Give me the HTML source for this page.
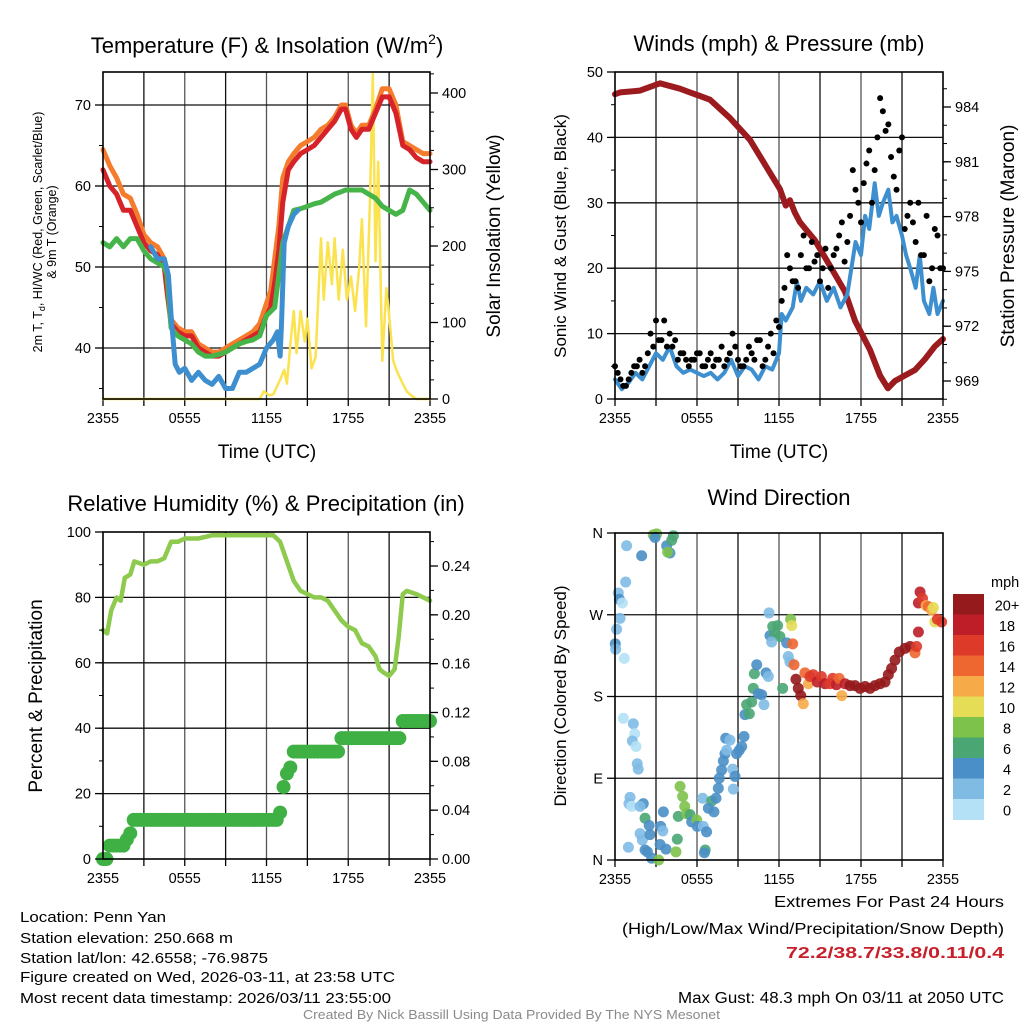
<!DOCTYPE html>
<html><head><meta charset="utf-8"><style>
html,body{margin:0;padding:0;background:#fff;}
svg{display:block;font-family:"Liberation Sans",Arial,sans-serif;}
</style></head><body>
<svg id="fig" width="1024" height="1024" viewBox="0 0 1024 1024">
<rect x="0" y="0" width="1024" height="1024" fill="#fff"/>
<text x="267" y="53" font-size="22" text-anchor="middle">Temperature (F) &amp; Insolation (W/m<tspan font-size="14" dy="-9">2</tspan><tspan dy="9">)</tspan></text>
<text x="779" y="51" font-size="22" text-anchor="middle">Winds (mph) &amp; Pressure (mb)</text>
<text x="266" y="511" font-size="22" text-anchor="middle">Relative Humidity (%) &amp; Precipitation (in)</text>
<text x="779" y="505" font-size="22" text-anchor="middle">Wind Direction</text>

<text transform="translate(42,232) rotate(-90)" font-size="12.5" text-anchor="middle">2m T, T<tspan font-size="9" dy="3">d</tspan><tspan dy="-3">, HI/WC (Red, Green, Scarlet/Blue)</tspan></text>
<text transform="translate(56,232) rotate(-90)" font-size="12.5" text-anchor="middle">&amp; 9m T (Orange)</text>
<text transform="translate(500,236) rotate(-90)" font-size="19" text-anchor="middle">Solar Insolation (Yellow)</text>
<text x="267" y="458" font-size="19" text-anchor="middle">Time (UTC)</text>
<text transform="translate(566,236) rotate(-90)" font-size="17" text-anchor="middle">Sonic Wind &amp; Gust (Blue, Black)</text>
<text transform="translate(1014,236) rotate(-90)" font-size="19" text-anchor="middle">Station Pressure (Maroon)</text>
<text x="779" y="458" font-size="19" text-anchor="middle">Time (UTC)</text>
<text transform="translate(42,696) rotate(-90)" font-size="19" text-anchor="middle">Percent &amp; Precipitation</text>
<text transform="translate(566,696) rotate(-90)" font-size="17" text-anchor="middle">Direction (Colored By Speed)</text>

<g font-size="14.5">
<text x="20" y="922" textLength="146" lengthAdjust="spacingAndGlyphs">Location: Penn Yan</text>
<text x="20" y="943" textLength="213" lengthAdjust="spacingAndGlyphs">Station elevation: 250.668 m</text>
<text x="20" y="963" textLength="248" lengthAdjust="spacingAndGlyphs">Station lat/lon: 42.6558; -76.9875</text>
<text x="20" y="982" textLength="375" lengthAdjust="spacingAndGlyphs">Figure created on Wed, 2026-03-11, at 23:58 UTC</text>
<text x="20" y="1003" textLength="371" lengthAdjust="spacingAndGlyphs">Most recent data timestamp: 2026/03/11 23:55:00</text>
</g>
<g font-size="15.5">
<text x="774" y="907" textLength="230" lengthAdjust="spacingAndGlyphs">Extremes For Past 24 Hours</text>
<text x="622" y="934" textLength="382" lengthAdjust="spacingAndGlyphs">(High/Low/Max Wind/Precipitation/Snow Depth)</text>
<text x="786" y="958" textLength="218" lengthAdjust="spacingAndGlyphs" font-weight="bold" fill="#c8202a">72.2/38.7/33.8/0.11/0.4</text>
<text x="678" y="1003" textLength="326" lengthAdjust="spacingAndGlyphs">Max Gust: 48.3 mph On 03/11 at 2050 UTC</text>
</g>
<text x="303" y="1019" font-size="12.5" fill="#8a8a8a" textLength="417" lengthAdjust="spacingAndGlyphs">Created By Nick Bassill Using Data Provided By The NYS Mesonet</text>
</svg>
<script>
// ---------- data ----------
var timeTickLabels = ["2355","0555","1155","1755","2355"];
var tempTicks = [40,50,60,70];
var solarTicks = [0,100,200,300,400];
var windTicks = [0,10,20,30,40,50];
var pressTicks = [969,972,975,978,981,984];
var rhTicks = [0,20,40,60,80,100];
var precipTicks = [0,0.04,0.08,0.12,0.16,0.20,0.24];
var dirTickLabels = ["N","E","S","W","N"];
var dirTickValues = [0,90,180,270,360];
var speedBins = ["0","2","4","6","8","10","12","14","16","18","20+"];

var tTimes = [0,0.5,1,1.5,2,2.5,3,3.5,4,4.5,4.7,5,5.5,6,6.5,7,7.5,8,8.5,9,9.5,10,10.5,11,11.5,12,12.3,12.6,12.9,13.2,13.6,14,14.5,15,15.5,16,16.5,17,17.5,17.8,18.2,18.6,19,19.5,20,20.5,21,21.5,22,22.5,23,23.5,24];
var tempRed = [62,60,59,57,57,55,53,52,51.5,50,47,43,42,41.5,41.5,40,39.5,39,39,39.5,40,40.5,41,41.5,42,44,45,48,52,58,62,63,64,64.5,65,66,67,68,69.5,69.5,67,66,67,67,69,71,71,69,65,64.5,63.5,63,63];
var temp9m = [64.5,62.5,61,59,58.5,56.5,54,53,52.5,51,48,43.5,42.5,42,42,40.5,40,39.5,39.5,40,40.5,41,41.5,42,43,45.5,47,51,55,61,63,64,65,65.5,66,67,67.5,68.5,70,70,67.5,66.5,67.5,67.5,69.5,72,72,70,65.5,65,64.5,64,64];
var tempDew = [53,52.5,53.5,52.5,53.5,53.5,52,51,50.5,50,49,42.5,41.5,41,40.5,39.5,39,39,39.2,39.5,40,40.5,40.8,41,41.5,44,44.5,45,49,53,55,57,57.2,57.5,57.8,58,58.5,59,59.3,59.5,59.5,59.5,59.5,59,58.5,57.5,57,56.5,57,59.5,59,58,57];
var hiTimes = [3.5,4,4.5,4.8,5,5.3,5.6,6,6.5,7,7.5,8,8.5,9,9.5,10,10.5,11,11.5,12,12.5,12.8,13,13.1,13.3,13.6,14,14.3];
var hiValues = [52.5,51,51,49,44,38,37,37.5,36,37,36,35.5,36.5,35,35,37,37,37.5,38,40,41,42,39,43,53,55,56.5,57];
var solarTimes = [0,11.5,11.8,12.2,12.5,13,13.3,13.5,13.8,14,14.2,14.5,14.8,15,15.3,15.6,16,16.2,16.5,16.8,17,17.3,17.6,17.9,18.2,18.5,18.8,19,19.3,19.6,19.8,20,20.2,20.5,20.8,21,21.3,21.6,22,22.3,22.6,23,24];
var solarValues = [0,0,10,5,6,25,38,20,80,115,60,115,75,105,40,55,210,130,205,150,210,130,195,130,160,115,170,235,95,265,425,180,310,50,145,110,50,35,20,10,5,0,0];

var windTimes = [0,0.5,1,1.5,2,2.5,3,3.5,4,4.5,5,5.5,6,6.5,7,7.5,8,8.5,9,9.5,10,10.5,11,11.5,12,12.2,12.5,13,13.3,13.6,14,14.5,15,15.5,16,16.5,17,17.3,17.6,18,18.3,18.6,19,19.3,19.6,20,20.3,20.6,21,21.3,21.6,22,22.3,22.6,23,23.3,23.6,24];
var windValues = [3,1.5,2.5,4,3,5,7,6,8,5,4,4.5,4,3.5,4,3,4,6,3.5,5,4.5,3,5,4.5,7,13,12,14,18,15,17,16,18,15,17,14,16,20,24,22,28,26,33,28,30,32,27,28,25,22,20,17,22,15,13,17,13,15];
var gustA = [5,3,2,4,5,4,7,8,9,12,10, 9,7,6,6,7,5,6,5,6,5, 7,8,5,6,7,9,5,8,7,11, 17,20,18,22,20,24,22,20,17,22, 25,21,28,32,27,36,30,40,44,42, 34,38,26,30,24,22,28,20,25,20];
var gustB = [4,2,3,5,6,5,10,12,9,8, 8,6,7,5,6,7,5,7,6,8, 6,10,6,5,8,6,9,6,10,12, 15,22,18,17,25,20,21,18,23,20, 23,27,24,35,30,33,38,35,46,41, 37,32,40,28,27,30,22,18,26,20];
var pressTimes = [0,0.37,1.83,3.29,4.75,5.49,6.22,6.95,8.41,9.88,11.34,12.07,12.5,12.8,13.17,13.53,14.63,15.73,16.82,17.56,18.66,19.39,19.97,20.48,21.21,21.95,22.68,23.41,24];
var pressValues = [984.7,984.8,984.9,985.3,985.0,984.8,984.6,984.4,983.4,982.2,980.4,979.5,978.6,978.9,978.2,977.7,976.7,975.3,973.9,972.3,970.7,969.3,968.6,969.0,969.3,969.6,970.2,970.9,971.3];

var rhTimes = [0,0.3,0.6,1,1.3,1.6,2,2.3,3,3.5,4,4.5,5,5.5,6,7,8,9,10,11,12,12.5,13,13.5,14,14.5,15,15.5,16,16.5,17,17.5,18,18.5,19,19.5,20,20.3,20.6,21,21.4,21.7,22,22.3,23,24];
var rhValues = [70,69,76,80,79,86,87,91,90,91,91,92,97,97,98,98,99,99,99,99,99,99,97,91,85,82,81,80,80,79,76,73,71,70,66,65,62,58,57,56,58,68,81,82,81,79];
var precipValues = [0,0,0.011,0.011,0.011,0.011,0.011,0.016,0.021,0.032,0.032,0.032,0.032,0.032,0.032,0.032,0.032,0.032,0.032,0.032,0.032,0.032,0.032,0.032,0.032,0.032,0.032,0.032,0.032,0.032,0.032,0.032,0.032,0.032,0.032,0.032,0.032,0.032,0.032,0.032,0.032,0.032,0.032,0.032,0.032,0.032,0.032,0.032,0.032,0.032,0.032,0.032,0.038,0.059,0.070,0.075,0.088,0.088,0.088,0.088,0.088,0.088,0.088,0.088,0.088,0.088,0.088,0.088,0.088,0.088,0.099,0.099,0.099,0.099,0.099,0.099,0.099,0.099,0.099,0.099,0.099,0.099,0.099,0.099,0.099,0.099,0.099,0.099,0.113,0.113,0.113,0.113,0.113,0.113,0.113,0.113,0.113];

var dirTimes = [0.85,1.95,0.78,0.24,0.32,0.54,0.37,0.12,0.02,0.05,0.68,0.61,1.34,1.44,1.27,1.54,1.63,1.7,1.1,1.02,1.22,2.07,1.83,2.2,2.5,1.83,2,2.56,0.98,2.2,2.37,2.68,3.2,3.3,3.34,3.5,3.54,3.73,4.46,4.56,4.63,4.76,4.95,5.1,5.24,5.49,5.61,5.98,6.02,6.41,6.46,6.7,6.6,6.54,7.07,6.83,7.24,7.39,7.56,7.63,7.8,7.93,8.05,8.17,8.1,8.41,8.61,8.66,8.78,8.9,9.1,9.27,9.44,9.51,9.63,9.83,10,10.12,10.2,10.37,10.49,10.73,10.9,11.05,11.22,11.27,11.34,11.54,11.7,11.9,12.07,11.46,12.27,12.56,12.68,12.8,12.85,12.93,13,13.1,13.24,13.41,13.59,13.78,13.9,14.15,14.27,14.5,14.8,15.1,15.37,15.73,15.93,16.2,16.4,16.59,16.83,17.2,17.56,17.93,18.3,18.66,19.02,19.39,19.76,20,20.24,20.49,20.8,21.22,21.59,21.95,22.07,22.2,22.2,22.32,22.5,22.76,22.93,23.17,23.3,23.4,23.59,23.9,2.8,3.05,2.93,3.78,4.02,3.85,4.15,4.27];
var dirValues = [346,335,306,294,287,283,266,254,238,232,222,156,150,139,131,125,106,100,69,62,59,62,59,46,38,29,22,28,14,11,9,2,0,17,37,32,53,12,9,23,48,81,70,59,51,50,42,44,37,68,37,31,11,8,65,57,53,68,79,90,99,109,117,121,134,132,100,78,92,117,121,125,136,160,171,161,174,189,205,215,183,182,171,206,202,272,247,257,248,258,246,240,189,239,224,218,265,258,238,215,199,189,181,172,206,194,202,204,196,202,194,194,200,193,200,181,194,192,192,189,191,189,192,194,196,204,211,220,229,233,235,228,235,251,283,295,288,280,279,275,278,262,265,262,358,359,355,346,338,339,352,357];
var dirSpeeds = [2,4,2,3,4,1,2,3,4,3,1,1,2,1,2,1,2,2,2,2,1,4,3,6,4,3,3,4,2,4,4,4,8,4,4,3,4,4,8,6,6,8,8,8,8,6,4,8,4,3,3,4,6,4,6,4,4,4,4,4,4,4,4,3,4,3,3,3,4,4,4,4,4,4,6,6,6,6,6,4,4,4,3,4,3,3,4,6,6,6,6,3,6,4,3,3,8,10,14,14,20,20,20,12,14,12,16,16,18,16,18,16,16,18,14,12,18,20,20,20,20,20,20,20,20,20,20,20,20,20,20,14,16,18,18,18,16,12,14,12,10,10,16,16,8,8,4,4,4,8,6,6];
var speedColors = ["#b4e1f6","#80bbe4","#4a8fc7","#4aa672","#7dc24b","#e5dd55","#f6aa48","#ee6630","#de3a2a","#be1e27","#941a1c"];

// ---------- helpers ----------
var SVGNS = "http://www.w3.org/2000/svg";
var svg = document.getElementById("fig");
function mk(tag, attrs, parent) {
  var e = document.createElementNS(SVGNS, tag);
  for (var k in attrs) e.setAttribute(k, attrs[k]);
  (parent || svg).appendChild(e);
  return e;
}
function lin(d0, d1, r0, r1) { return function (v) { return r0 + (v - d0) / (d1 - d0) * (r1 - r0); }; }

var P1 = {x0:103, x1:430, y0:72, y1:399};
var P2 = {x0:615, x1:943, y0:72, y1:399};
var P3 = {x0:103, x1:430, y0:532, y1:859};
var P4 = {x0:615, x1:943, y0:533, y1:860};

function frame(P, name, hGridY) {
  var g = mk("g", {});
  
  
  var xs = lin(0, 24, P.x0, P.x1);
  for (var h = 3; h < 24; h += 3) {
    var l = mk("line", {x1: xs(h), x2: xs(h), y1: P.y0, y2: P.y1, stroke: (h % 6 === 0 ? "#555" : "#111"), "stroke-width": 1.3}, g);
    
    
  }
  hGridY.forEach(function (y) {
    var l = mk("line", {x1: P.x0, x2: P.x1, y1: y, y2: y, stroke: "#111", "stroke-width": 1.3}, g);
    
    
  });
  // x ticks & labels
  for (var i = 0; i <= 8; i++) {
    var x = xs(i * 3);
    var t = mk("line", {x1: x, x2: x, y1: P.y1, y2: P.y1 + 7, stroke: "#000", "stroke-width": 1.3}, g);
    
    
  }
  timeTickLabels.forEach(function (lab, i) {
    var tx = mk("text", {x: xs(i * 6), y: P.y1 + 24, "font-size": 14.5, "text-anchor": "middle"}, g);
    tx.textContent = lab;
    
    
  });
  return xs;
}
function border(P, name) {
  var r = mk("rect", {x: P.x0, y: P.y0, width: P.x1 - P.x0, height: P.y1 - P.y0, fill: "none", stroke: "#000", "stroke-width": 1.6});
  
  
}
function yAxis(P, side, ticks, scale, fmt, minorStep, lo, hi, name) {
  var g = mk("g", {});
  
  
  var xe = side === "left" ? P.x0 : P.x1;
  var dir = side === "left" ? -1 : 1;
  if (minorStep) {
    for (var v = lo; v <= hi + 1e-9; v += minorStep) {
      var y = scale(v);
      if (y < P.y0 - 0.5 || y > P.y1 + 0.5) continue;
      var m = mk("line", {x1: xe, x2: xe + dir * 4, y1: y, y2: y, stroke: "#000", "stroke-width": 1}, g);
      
      
    }
  }
  ticks.forEach(function (v) {
    var y = scale(v);
    var t = mk("line", {x1: xe, x2: xe + dir * 8, y1: y, y2: y, stroke: "#000", "stroke-width": 1.3}, g);
    
    
    var tx = mk("text", {x: xe + dir * 12, y: y + 5, "font-size": 14.5, "text-anchor": side === "left" ? "end" : "start"}, g);
    tx.textContent = fmt(v);
    
    
  });
}
function poly(xs, ys, tArr, vArr, color, w, name) {
  var pts = tArr.map(function (t, i) { return xs(t).toFixed(1) + "," + ys(vArr[i]).toFixed(1); }).join(" ");
  var p = mk("polyline", {points: pts, fill: "none", stroke: color, "stroke-width": w, "stroke-linejoin": "round", "stroke-linecap": "round"});
  
  
  return p;
}
function S(v){return String(v);}

// ---------- Panel 1 ----------
var yT = lin(40, 70, 348, 105);
var yS = lin(0, 400, 399, 93);
var x1 = frame(P1, "temperature", tempTicks.map(yT));
poly(x1, yS, solarTimes, solarValues, "#fbe24f", 2.5, "solar-insolation-line");
poly(x1, yT, tTimes, temp9m, "#f47c2c", 5, "temp-9m-line");
poly(x1, yT, tTimes, tempRed, "#d6232a", 5, "temp-2m-line");
poly(x1, yT, tTimes, tempDew, "#45b449", 5, "dewpoint-line");
poly(x1, yT, hiTimes, hiValues, "#3d8fcf", 5, "heat-index-wind-chill-line");
border(P1, "temperature");
yAxis(P1, "left", tempTicks, yT, S, 5, 35, 70, "temperature-y-axis");
yAxis(P1, "right", solarTicks, yS, S, 25, 0, 425, "insolation-y-axis");

// ---------- Panel 2 ----------
var yW = lin(0, 50, 399, 72);
var yP = lin(969, 984, 381, 107);
var x2 = frame(P2, "winds", windTicks.slice(1, 5).map(yW));
poly(x2, yP, pressTimes, pressValues, "#9b1b1e", 6, "pressure-line");
poly(x2, yW, windTimes, windValues, "#3d8fcf", 4, "sonic-wind-line");
gustA.forEach(function (v, i) {
  var c = mk("circle", {cx: x2(i * 0.4), cy: yW(v), r: 3, fill: "#000"});
  
  
});
gustB.forEach(function (v, i) {
  var c = mk("circle", {cx: x2(i * 0.4 + 0.2), cy: yW(v), r: 3, fill: "#000"});
  
  
});
border(P2, "winds");
yAxis(P2, "left", windTicks, yW, S, 5, 0, 50, "wind-y-axis");
yAxis(P2, "right", pressTicks, yP, S, 1, 968, 985, "pressure-y-axis");

// ---------- Panel 3 ----------
var yR = lin(0, 100, 859, 532);
var yPr = lin(0, 0.24, 859, 566);
var x3 = frame(P3, "humidity", [20, 40, 60, 80].map(yR));
poly(x3, yR, rhTimes, rhValues, "#8dca4d", 4.5, "relative-humidity-line");
precipValues.forEach(function (v, i) {
  var c = mk("circle", {cx: x3(i * 0.25), cy: yPr(v), r: 7, fill: "#3fb043"});
  
  
});
border(P3, "humidity");
yAxis(P3, "left", rhTicks, yR, S, 10, 0, 100, "humidity-y-axis");
yAxis(P3, "right", precipTicks, yPr, function (v) { return v.toFixed(2); }, 0.02, 0, 0.26, "precipitation-y-axis");

// ---------- Panel 4 ----------
var yD = lin(0, 360, 860, 533);
var x4 = frame(P4, "wind-direction", [90, 180, 270].map(yD));
dirTimes.forEach(function (t, i) {
  var idx = Math.max(0, Math.min(10, Math.floor(dirSpeeds[i] / 2)));
  var c = mk("circle", {cx: x4(t), cy: yD(dirValues[i]), r: 5.5, fill: speedColors[idx], "fill-opacity": 0.9});
  
  
});
border(P4, "wind-direction");
(function () {
  var g = mk("g", {});
  
  
  dirTickValues.forEach(function (v, i) {
    var y = yD(v);
    var t = mk("line", {x1: P4.x0 - 8, x2: P4.x0, y1: y, y2: y, stroke: "#000", "stroke-width": 1.3}, g);
    
    
    var tx = mk("text", {x: P4.x0 - 12, y: y + 5, "font-size": 14.5, "text-anchor": "end"}, g);
    tx.textContent = dirTickLabels[i];
    
    
  });
})();
// colorbar
(function () {
  var g = mk("g", {});
  
  
  var top = 594, h = 20.5;
  var ttl = mk("text", {x: 991, y: 587, "font-size": 14.5}, g);
  ttl.textContent = "mph";
  
  
  for (var k = 0; k < speedBins.length; k++) {
    var bi = speedBins.length - 1 - k;
    var r = mk("rect", {x: 953, y: top + k * h, width: 31, height: h + 0.5, fill: speedColors[bi]}, g);
    
    
    var tx = mk("text", {x: 1007, y: top + k * h + h / 2 + 6, "font-size": 14.5, "text-anchor": "middle"}, g);
    tx.textContent = speedBins[bi];
    
    
  }
})();
</script>
</body></html>
